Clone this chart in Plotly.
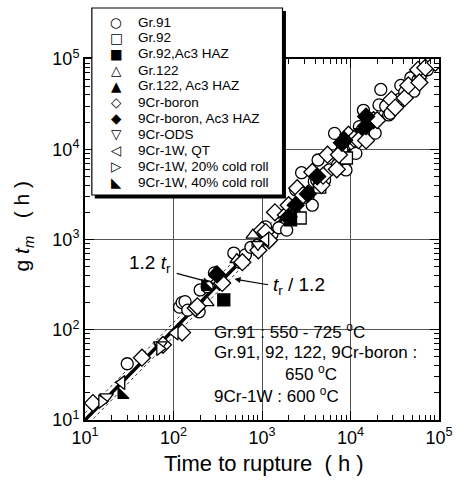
import plotly.graph_objects as go

# ---------------- data (hours) ----------------
gr91_x = [30, 117, 125, 135, 145, 195, 200, 240, 290, 480, 560, 650, 750, 900, 1000, 1100, 1200,
          1300, 1550, 1900, 2150, 2300, 2400, 2800, 3300, 3700, 3900, 4150, 4300, 5100, 5750, 6600,
          7100, 8000, 8500, 8900, 9800, 10500, 11000, 11500, 12600, 13500, 14000, 16000, 16000,
          19000, 21000, 22000, 25000, 27000, 28000, 35000, 35000, 37000, 41000, 48000, 52000,
          58000, 62000, 74000]
gr91_y = [42, 178, 200, 205, 165, 158, 276, 300, 427, 708, 560, 676, 820, 870, 1120, 1380, 980,
          1150, 1350, 1270, 2130, 2000, 3550, 5500, 2900, 2400, 4400, 4570, 7600, 4570, 5900, 15000,
          6700, 9800, 7800, 5900, 12500, 12600, 11200, 9000, 17800, 16200, 27000, 17000, 22000,
          15100, 31000, 46000, 30000, 24000, 25000, 33000, 35500, 51000, 43000, 62000, 44000,
          59000, 66000, 76000]

gr92_x = [2700, 4500, 9000]
gr92_y = [1730, 3800, 8000]

gr92haz_x = [370, 2100, 13000]
gr92haz_y = [214, 1650, 14500]

gr122_x = [240, 520, 790, 1740, 7100]
gr122_y = [200, 600, 1120, 1870, 9100]

gr122haz_x = [300, 590]
gr122haz_y = [430, 560]

b_x = [12.3, 44, 76, 125, 178, 186, 330, 355, 600, 910, 1000, 1100, 1200, 1400, 1860, 2000,
       2500, 2900, 3700, 4700, 4900, 5500, 7000, 7400, 9500, 11000, 12300, 15000, 18200, 20000,
       29000, 32000, 41000, 45000, 58000, 60000, 70000, 91000]
b_y = [15.4, 49, 68, 93, 174, 182, 340, 330, 560, 760, 1270, 1210, 980, 2000, 1870, 2400,
       3700, 3100, 5600, 4000, 5100, 8700, 6000, 8700, 14500, 13000, 12600, 12500, 21000, 21000,
       35500, 29000, 37000, 51000, 76000, 55000, 80000, 91000]

bhaz_x = [310, 2000, 2400, 3300, 4200, 8000, 8500, 15000, 15000]
bhaz_y = [410, 1780, 2400, 3200, 5000, 11800, 12600, 23000, 18000]

ods_x = [17.5, 71, 900]
ods_y = [18, 68, 880]

qt_x = [26, 104, 1100]
qt_y = [26, 92, 1000]

cr20_x = [15.5, 70]
cr20_y = [16, 62]

cr40_x = [26, 230]
cr40_y = [19, 300]

legend_labels = ["Gr.91", "Gr.92", "Gr.92,Ac3 HAZ", "Gr.122", "Gr.122, Ac3 HAZ", "9Cr-boron",
                 "9Cr-boron, Ac3 HAZ", "9Cr-ODS", "9Cr-1W, QT", "9Cr-1W, 20% cold roll",
                 "9Cr-1W, 40% cold roll"]
legend_glyphs = ["\u25CB", "\u25A1", "\u25A0", "\u25B3", "\u25B2", "\u25C7", "\u25C6", "\u25BD",
                 "\u25C1", "\u25B7", "\u25E3"]

tick_vals = [10, 100, 1000, 10000, 100000]
tick_text = ["10<sup>1</sup>", "10<sup>2</sup>", "10<sup>3</sup>", "10<sup>4</sup>", "10<sup>5</sup>"]

line_x = [10, 100000]
band_factor = 1.2

# ---------------- figure ----------------
FONT = "Liberation Sans, Arial, sans-serif"
fig = go.Figure()

fig.add_trace(go.Scatter(x=line_x, y=[v * band_factor for v in line_x], mode="lines",
                         line=dict(color="#333", width=1, dash="dot"), showlegend=False, hoverinfo="skip"))
fig.add_trace(go.Scatter(x=line_x, y=[v / band_factor for v in line_x], mode="lines",
                         line=dict(color="#333", width=1, dash="dot"), showlegend=False, hoverinfo="skip"))
fig.add_trace(go.Scatter(x=line_x, y=line_x, mode="lines",
                         line=dict(color="black", width=3.5), showlegend=False, hoverinfo="skip"))

series = [
    ("Gr.91", gr91_x, gr91_y, "circle", False),
    ("Gr.92", gr92_x, gr92_y, "square", False),
    ("Gr.92,Ac3 HAZ", gr92haz_x, gr92haz_y, "square", True),
    ("Gr.122", gr122_x, gr122_y, "triangle-up", False),
    ("Gr.122, Ac3 HAZ", gr122haz_x, gr122haz_y, "triangle-up", True),
    ("9Cr-boron", b_x, b_y, "diamond", False),
    ("9Cr-boron, Ac3 HAZ", bhaz_x, bhaz_y, "diamond", True),
    ("9Cr-ODS", ods_x, ods_y, "triangle-down", False),
    ("9Cr-1W, QT", qt_x, qt_y, "triangle-left", False),
    ("9Cr-1W, 20% cold roll", cr20_x, cr20_y, "triangle-right", False),
    ("9Cr-1W, 40% cold roll", cr40_x, cr40_y, "triangle-sw", True),
]
for name, xs, ys, sym, filled in series:
    size = 13 if sym == "diamond" else 12
    fig.add_trace(go.Scatter(
        x=xs, y=ys, mode="markers", name=name, showlegend=False,
        marker=dict(symbol=sym, size=size, color="black" if filled else "white",
                    line=dict(color="black", width=1.3))))

minor_vals = [m * 10 ** e for e in range(1, 5) for m in range(2, 10)]
axis_common = dict(
    type="log", tickvals=tick_vals, ticktext=tick_text, ticks="inside", ticklen=9, tickwidth=1.2,
    tickcolor="black", mirror="ticks", showline=True, linecolor="black", linewidth=2,
    showgrid=True, gridcolor="#555", gridwidth=1.4, zeroline=False,
    tickfont=dict(family=FONT, size=18, color="black"),
    minor=dict(tickvals=minor_vals, ticks="inside", ticklen=5, tickwidth=1, tickcolor="black", showgrid=False),
)
fig.update_xaxes(range=[1, 5], **axis_common)
fig.update_yaxes(range=[1, 5], **axis_common)

def px_x(px):
    return (px - 85) / 362.0

def px_y(py):
    return (420 - py) / 361.0

shapes = [
    # white background behind condition text
    dict(type="rect", xref="paper", yref="paper", x0=px_x(207), x1=1, y0=0, y1=px_y(314),
         fillcolor="white", line=dict(width=0), layer="between"),
    # legend shadow + box
    dict(type="rect", xref="paper", yref="paper", x0=px_x(95), x1=px_x(290.5), y0=px_y(198.5), y1=px_y(11),
         fillcolor="black", line=dict(width=0), layer="above"),
    dict(type="rect", xref="paper", yref="paper", x0=px_x(92), x1=px_x(287), y0=px_y(195), y1=px_y(8),
         fillcolor="white", line=dict(color="black", width=1.2), layer="above"),
]

ann = []
for i, (lab, gl) in enumerate(zip(legend_labels, legend_glyphs)):
    yy = px_y(22 + 16 * i)
    ann.append(dict(xref="paper", yref="paper", x=px_x(117), y=yy, text=gl, showarrow=False,
                    xanchor="center", yanchor="middle", font=dict(family="DejaVu Sans", size=13.5, color="black")))
    ann.append(dict(xref="paper", yref="paper", x=px_x(137), y=yy, text=lab, showarrow=False,
                    xanchor="left", yanchor="middle", font=dict(family=FONT, size=13.5, color="black")))

# axis titles
ann.append(dict(xref="paper", yref="paper", x=px_x(268), y=px_y(463), text="Time to rupture  ( h )",
                showarrow=False, xanchor="center", yanchor="middle", font=dict(family=FONT, size=22, color="black")))
ann.append(dict(xref="paper", yref="paper", x=px_x(22), y=px_y(226),
                text="g <i>t</i><sub><i>m</i></sub>   ( h )", textangle=-90,
                showarrow=False, xanchor="center", yanchor="middle", font=dict(family=FONT, size=21, color="black")))

# band labels with arrows
ann.append(dict(xref="paper", yref="paper", x=px_x(151), y=px_y(264), text="1.2 <i>t</i><sub>r</sub>",
                showarrow=False, xanchor="center", yanchor="middle", font=dict(family=FONT, size=19, color="black")))
ann.append(dict(xref="x", yref="y", x=2.403, y=2.529, text="", showarrow=True, ax=-34, ay=-9,
                arrowhead=2, arrowsize=1, arrowwidth=1.2, arrowcolor="black"))
ann.append(dict(xref="paper", yref="paper", x=px_x(304), y=px_y(286), text="<i>t</i><sub>r</sub> / 1.2",
                showarrow=False, xanchor="center", yanchor="middle", font=dict(family=FONT, size=19, color="black")))
ann.append(dict(xref="x", yref="y", x=2.69, y=2.562, text="", showarrow=True, ax=35, ay=6,
                arrowhead=2, arrowsize=1, arrowwidth=1.2, arrowcolor="black"))

# condition text
cond = [("Gr.91 : 550 - 725 <sup>o</sup>C", 215, 331, "left"),
        ("Gr.91, 92, 122, 9Cr-boron :", 215, 352, "left"),
        ("650 <sup>o</sup>C", 316, 373, "center"),
        ("9Cr-1W : 600 <sup>o</sup>C", 215, 395, "left")]
for t, xx, yy, anc in cond:
    ann.append(dict(xref="paper", yref="paper", x=px_x(xx), y=px_y(yy), text=t, showarrow=False,
                    xanchor=anc, yanchor="middle", font=dict(family=FONT, size=17, color="black")))

fig.update_layout(
    width=465, height=483, margin=dict(l=85, r=18, t=59, b=63),
    plot_bgcolor="white", paper_bgcolor="white", showlegend=False,
    shapes=shapes, annotations=ann,
    font=dict(family=FONT, color="black"),
)

fig.write_html("out.html")
